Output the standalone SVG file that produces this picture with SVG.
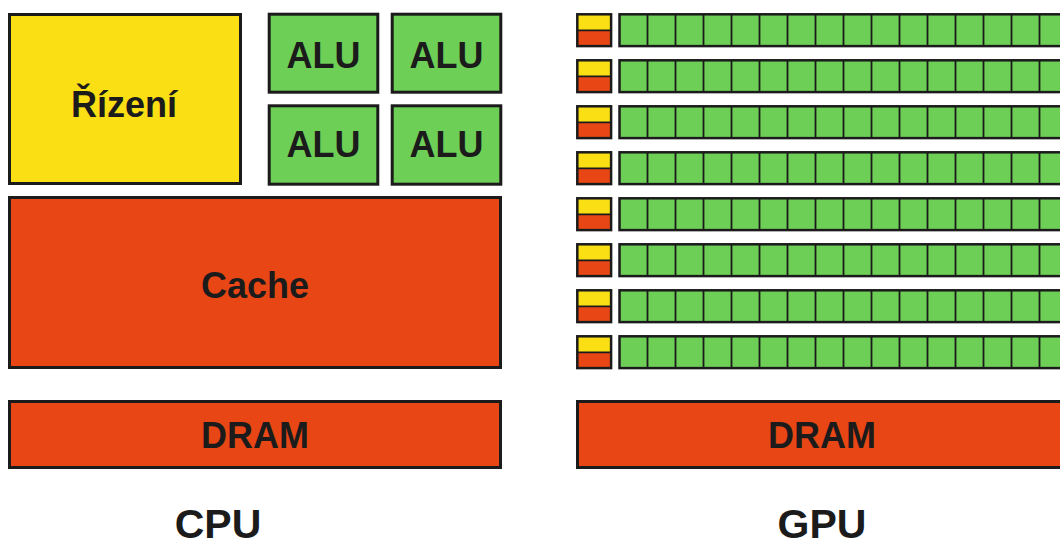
<svg xmlns="http://www.w3.org/2000/svg" width="1060" height="542" viewBox="0 0 1060 542">
<style>
.box{stroke:#1b1b1b;stroke-width:3}
.y{fill:#fadf15}
.r{fill:#e84715}
.g{fill:#6ecf57}
.t{font-family:"Liberation Sans",Arial,sans-serif;font-weight:bold;fill:#1b1b1b;text-anchor:middle}
.cell{stroke:#1b1b1b;stroke-width:2.5}
.div{stroke:#1b1b1b;stroke-width:1.8;fill:none}
</style>
<defs>
<g id="gpurow">
<rect class="y" x="577.3" y="14.3" width="33.8" height="16" stroke="none"/>
<rect class="r" x="577.3" y="30.3" width="33.8" height="16" stroke="none"/>
<rect x="577.3" y="14.3" width="33.8" height="31.8" fill="none" class="cell"/>
<line x1="577.3" y1="30.3" x2="611.1" y2="30.3" class="div"/>
<rect class="g cell" x="619.5" y="14.3" width="470" height="31.8"/>
<path class="div" d="M647.5 14.3V46.1M675.5 14.3V46.1M703.5 14.3V46.1M731.5 14.3V46.1M759.5 14.3V46.1M787.5 14.3V46.1M815.5 14.3V46.1M843.5 14.3V46.1M871.5 14.3V46.1M899.5 14.3V46.1M927.5 14.3V46.1M955.5 14.3V46.1M983.5 14.3V46.1M1011.5 14.3V46.1M1039.5 14.3V46.1"/>
</g>
</defs>
<rect width="1060" height="542" fill="#ffffff"/>
<g id="cpu">
<g id="rizeni"><rect class="box y" x="9.5" y="14.5" width="231" height="169"/><text class="t" x="124" y="116.5" font-size="36">Řízení</text></g>
<g id="alu1"><rect class="box g" x="269.2" y="14.2" width="108.6" height="78"/><text class="t" x="323.5" y="67.5" font-size="36">ALU</text></g>
<g id="alu2"><rect class="box g" x="392.2" y="14.2" width="108.6" height="78"/><text class="t" x="446.5" y="67.5" font-size="36">ALU</text></g>
<g id="alu3"><rect class="box g" x="269.2" y="105.8" width="108.6" height="78.4"/><text class="t" x="323.5" y="157" font-size="36">ALU</text></g>
<g id="alu4"><rect class="box g" x="392.2" y="105.8" width="108.6" height="78.4"/><text class="t" x="446.5" y="157" font-size="36">ALU</text></g>
<g id="cache"><rect class="box r" x="9.5" y="197.5" width="491" height="170"/><text class="t" x="255" y="297.5" font-size="36">Cache</text></g>
<g id="dram-cpu"><rect class="box r" x="9.5" y="401.5" width="491" height="66"/><text class="t" x="255" y="448" font-size="36">DRAM</text></g>
<text class="t" x="218" y="538" font-size="41">CPU</text>
</g>
<g id="gpu">
<use href="#gpurow"/>
<use href="#gpurow" y="46"/>
<use href="#gpurow" y="92"/>
<use href="#gpurow" y="138"/>
<use href="#gpurow" y="184"/>
<use href="#gpurow" y="230"/>
<use href="#gpurow" y="276"/>
<use href="#gpurow" y="322"/>
<g id="dram-gpu"><rect class="box r" x="577.5" y="401.5" width="500" height="66"/><text class="t" x="822" y="448" font-size="36">DRAM</text></g>
<text class="t" x="822" y="538" font-size="41">GPU</text>
</g>
</svg>
